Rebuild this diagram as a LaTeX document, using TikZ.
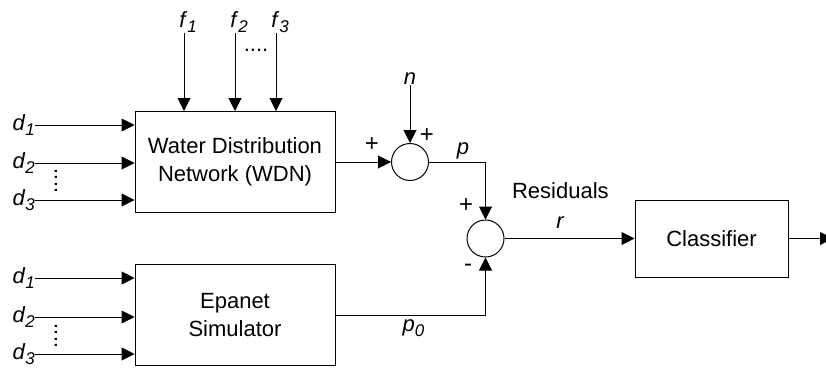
\documentclass[tikz,border=0pt]{standalone}
\usepackage{fontspec}
\setmainfont{Liberation Sans}
\usetikzlibrary{arrows.meta, positioning}
\newcommand{\ivar}[2]{\textit{#1}\raisebox{-5pt}{\fontsize{17}{17}\selectfont\textit{#2}}}

\begin{document}
\begin{tikzpicture}[
    x = 1pt, y = -1pt,
    font       = \fontsize{22}{28}\selectfont,
    blk/.style = {draw, line width=1pt, align=center, inner sep=0pt},
    sumj/.style = {draw, circle, line width=1pt, minimum size=37pt, inner sep=0pt},
    arr/.style = {-{Triangle[length=13pt, width=13pt]}, line width=1pt},
    lbl/.style = {inner sep=0pt, font=\fontsize{22}{26}\selectfont},
    sgn/.style = {inner sep=0pt, font=\fontsize{24}{24}\selectfont},
  ]
  \useasboundingbox (0,0) rectangle (826,367);
  % blocks
  \node[blk, minimum width=200pt, minimum height=101pt] (wdn) at (235,162) {Water Distribution\\Network (WDN)};
  \node[blk, minimum width=200pt, minimum height=101pt] (epa) at (235,315) {Epanet\\Simulator};
  \node[blk, minimum width=153pt, minimum height=77pt] (cls) at (711.5,238.5) {Classifier};
  \node[sumj] (s1) at (410,162) {};
  \node[sumj] (s2) at (485.5,238.5) {};
  % demands
  \foreach \i/\y in {1/125, 2/163, 3/200} {
    \node[lbl, anchor=east] (dw\i) at (35,\y) {\ivar{d}{\i}};
    \draw[arr] (dw\i.east) -- (dw\i.east -| wdn.west);
  }
  \foreach \i/\y in {1/278, 2/317, 3/354} {
    \node[lbl, anchor=east] (de\i) at (35,\y) {\ivar{d}{\i}};
    \draw[arr] (de\i.east) -- (de\i.east -| epa.west);
  }
  \node[lbl, rotate=90] (dv1) at (56,181) {....};
  \node[lbl, rotate=90] (dv2) at (56,336) {....};
  % faults
  \foreach \i/\x in {1/184, 2/235, 3/276} {
    \coordinate (fi\i) at (\x,33);
    \node[lbl, above=0pt of fi\i, xshift=4pt] (f\i) {\ivar{f}{\i}};
    \draw[arr] (fi\i) -- (fi\i |- wdn.north);
  }
  \node[lbl] (fdots) at (256,50) {....};
  % noise
  \coordinate (ni) at (410,85);
  \node[lbl, above=0pt of ni] (n) {\textit{n}};
  \draw[arr] (ni) -- (s1.north);
  % signs
  \node[sgn] (s1t) at (427,136) {+};
  \node[sgn] (s1l) at (372,145) {+};
  \node[sgn] (s2t) at (466,206) {+};
  \node[sgn] (s2b) at (468,268) {-};
  % signals
  \draw[arr] (wdn.east) -- (s1.west);
  \draw[arr] (s1.east) -| (s2.north) node[lbl, pos=0.3, above=2pt] (p) {\textit{p}};
  \draw[arr] (epa.east) -| (s2.south) node[lbl, pos=0.26, below=4pt] (p0) {\ivar{p}{0}};
  \draw[arr] (s2.east) -- (cls.west) node[lbl, pos=0.43, above=10pt] (r) {\textit{r}};
  \node[inner sep=0pt, above=17pt of r] (res) {Residuals};
  \coordinate (out) at (833,238.5);
  \draw[arr] (cls.east) -- (out);
\end{tikzpicture}
\end{document}
